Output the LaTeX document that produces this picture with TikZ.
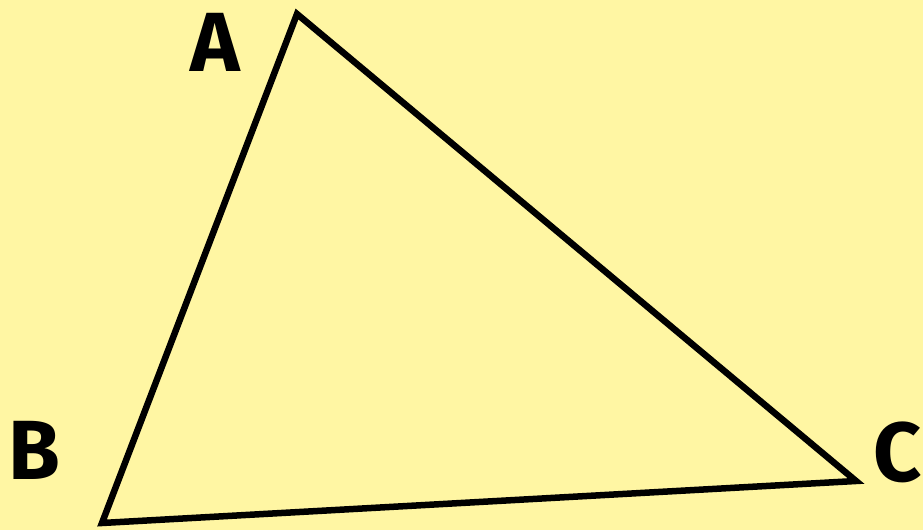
\documentclass[tikz,border=0pt]{standalone}
\usepackage{fontspec}
\setmainfont{Fira Sans}
\definecolor{bgyellow}{HTML}{FFF6A3}
\tikzset{
  edge/.style={line width=6.5pt, black, line join=miter},
  vlabel/.style={font=\fontsize{84}{84}\selectfont\bfseries, inner sep=0pt, anchor=center}
}
\begin{document}
\begin{tikzpicture}[x=1pt,y=1pt]
\fill[bgyellow] (0,0) rectangle (923,530);
\useasboundingbox (0,0) rectangle (923,530);
\coordinate (A) at (297,516);
\coordinate (B) at (102,7);
\coordinate (C) at (856,49);
\draw[edge] (A) -- (B) -- (C) -- cycle;
\node[vlabel] (la) at (215,488) {A};
\node[vlabel] (lb) at (34,80) {B};
\node[vlabel] (lc) at (898,78) {C};
\end{tikzpicture}
\end{document}
